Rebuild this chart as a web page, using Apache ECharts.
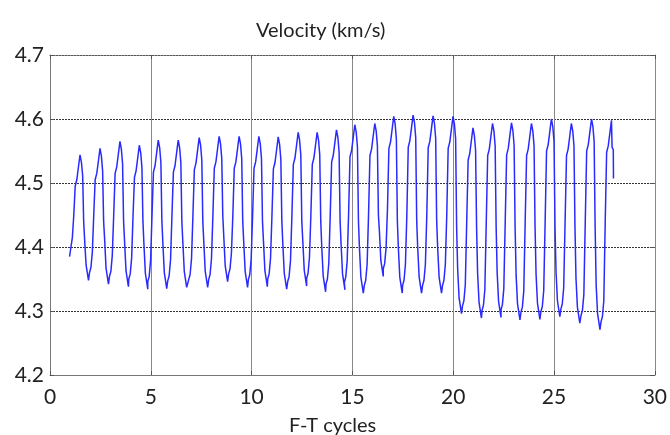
<!DOCTYPE html>
<html>
<head>
<meta charset="utf-8">
<script src="https://cdn.jsdelivr.net/npm/echarts@6/dist/echarts.min.js"></script>
<style>
html,body{margin:0;padding:0;background:#fff;}
#chart{width:670px;height:435px;}
</style>
</head>
<body>
<div id="chart"></div>
<script>
// Shape sample offsets (in cycles) relative to each cycle's peak
const phase = [-0.52, -0.45, -0.38, -0.31, -0.24, -0.16, -0.08, 0, 0.07, 0.13, 0.18, 0.23, 0.30, 0.42];

// Peak positions
const peakX = [1.49, 2.48, 3.47, 4.43, 5.37, 6.36, 7.40, 8.39, 9.38, 10.36, 11.32, 12.31, 13.25, 14.21,
  15.12, 16.11, 17.05, 18.01, 19.00, 19.99, 20.98, 21.95, 22.89, 23.88, 24.87, 25.86, 26.86, 27.85];

// Velocity values per cycle (km/s)
const cycleY = [
  [4.385, 4.400, 4.415, 4.45, 4.495, 4.505, 4.525, 4.544, 4.532, 4.512, 4.44, 4.410, 4.372, 4.348],
  [4.360, 4.368, 4.392, 4.45, 4.505, 4.515, 4.534, 4.554, 4.542, 4.519, 4.44, 4.412, 4.367, 4.342],
  [4.354, 4.362, 4.387, 4.45, 4.515, 4.525, 4.545, 4.565, 4.553, 4.530, 4.44, 4.408, 4.363, 4.338],
  [4.350, 4.358, 4.383, 4.45, 4.509, 4.519, 4.539, 4.559, 4.547, 4.524, 4.44, 4.404, 4.359, 4.334],
  [4.346, 4.354, 4.379, 4.45, 4.517, 4.527, 4.547, 4.567, 4.555, 4.532, 4.44, 4.405, 4.360, 4.335],
  [4.347, 4.355, 4.380, 4.45, 4.517, 4.527, 4.547, 4.567, 4.555, 4.532, 4.44, 4.407, 4.362, 4.337],
  [4.349, 4.357, 4.382, 4.45, 4.521, 4.531, 4.551, 4.571, 4.559, 4.536, 4.44, 4.407, 4.362, 4.337],
  [4.349, 4.357, 4.382, 4.45, 4.523, 4.533, 4.553, 4.573, 4.561, 4.538, 4.45, 4.416, 4.371, 4.346],
  [4.358, 4.366, 4.391, 4.45, 4.523, 4.533, 4.553, 4.573, 4.561, 4.538, 4.44, 4.407, 4.362, 4.337],
  [4.349, 4.357, 4.382, 4.45, 4.523, 4.533, 4.553, 4.573, 4.561, 4.538, 4.44, 4.408, 4.363, 4.338],
  [4.350, 4.358, 4.383, 4.45, 4.522, 4.532, 4.552, 4.572, 4.560, 4.537, 4.44, 4.404, 4.359, 4.334],
  [4.346, 4.354, 4.379, 4.45, 4.529, 4.539, 4.559, 4.579, 4.567, 4.544, 4.44, 4.409, 4.364, 4.339],
  [4.351, 4.359, 4.384, 4.45, 4.529, 4.539, 4.559, 4.579, 4.567, 4.544, 4.44, 4.400, 4.355, 4.330],
  [4.342, 4.350, 4.375, 4.45, 4.533, 4.543, 4.563, 4.583, 4.571, 4.548, 4.44, 4.403, 4.358, 4.333],
  [4.345, 4.353, 4.378, 4.45, 4.541, 4.551, 4.571, 4.591, 4.579, 4.556, 4.44, 4.398, 4.353, 4.328],
  [4.340, 4.348, 4.373, 4.45, 4.543, 4.553, 4.573, 4.593, 4.581, 4.558, 4.45, 4.424, 4.379, 4.354],
  [4.366, 4.374, 4.399, 4.46, 4.554, 4.564, 4.584, 4.604, 4.592, 4.569, 4.44, 4.398, 4.353, 4.328],
  [4.340, 4.348, 4.373, 4.45, 4.556, 4.566, 4.586, 4.606, 4.594, 4.571, 4.44, 4.398, 4.353, 4.328],
  [4.340, 4.348, 4.373, 4.45, 4.555, 4.565, 4.585, 4.605, 4.593, 4.570, 4.44, 4.398, 4.353, 4.328],
  [4.340, 4.348, 4.373, 4.45, 4.554, 4.564, 4.584, 4.604, 4.592, 4.569, 4.43, 4.366, 4.321, 4.296],
  [4.308, 4.316, 4.341, 4.44, 4.536, 4.546, 4.566, 4.586, 4.574, 4.551, 4.43, 4.359, 4.314, 4.289],
  [4.301, 4.309, 4.334, 4.44, 4.543, 4.553, 4.573, 4.593, 4.581, 4.558, 4.43, 4.360, 4.315, 4.290],
  [4.302, 4.310, 4.335, 4.44, 4.544, 4.554, 4.574, 4.594, 4.582, 4.559, 4.43, 4.356, 4.311, 4.286],
  [4.298, 4.306, 4.331, 4.44, 4.543, 4.553, 4.573, 4.593, 4.581, 4.558, 4.43, 4.357, 4.312, 4.287],
  [4.299, 4.307, 4.332, 4.44, 4.550, 4.560, 4.580, 4.600, 4.588, 4.565, 4.43, 4.361, 4.316, 4.291],
  [4.303, 4.311, 4.336, 4.44, 4.543, 4.553, 4.573, 4.593, 4.581, 4.558, 4.43, 4.351, 4.306, 4.281],
  [4.293, 4.301, 4.326, 4.44, 4.550, 4.560, 4.580, 4.600, 4.588, 4.565, 4.43, 4.341, 4.296, 4.271],
  [4.283, 4.291, 4.316, 4.44, 4.548, 4.558, 4.578, 4.598]
];

// Final partial fall after the last peak
const tailX = [27.88, 27.92, 27.94, 27.95];
const tailY = [4.556, 4.553, 4.552, 4.507];

// Axis ticks
const xTicks = [0, 5, 10, 15, 20, 25, 30];
const yTicks = [4.2, 4.3, 4.4, 4.5, 4.6, 4.7];

const data = [];
cycleY.forEach((row, i) => {
  row.forEach((v, j) => data.push([+(peakX[i] + phase[j]).toFixed(3), v]));
});
tailX.forEach((x, k) => data.push([x, tailY[k]]));

const FONT = 'Lato';
const chart = echarts.init(document.getElementById('chart'), null, {renderer: 'canvas'});
chart.setOption({
  animation: false,
  backgroundColor: '#ffffff',
  title: [
    {text: 'Velocity (km/s)', left: 251, top: 16,
     textStyle: {fontFamily: FONT, fontSize: 20, fontWeight: 'normal', color: '#222'}},
    {text: 'F-T cycles', left: 284, top: 411,
     textStyle: {fontFamily: FONT, fontSize: 20, fontWeight: 'normal', color: '#222'}}
  ],
  grid: {left: 50, right: 15, top: 55, bottom: 60, containLabel: false},
  xAxis: [{
    type: 'value', min: xTicks[0], max: xTicks[xTicks.length - 1], interval: 5,
    axisLine: {show: true, onZero: false, lineStyle: {color: '#777', width: 1}},
    axisTick: {show: true, inside: true, length: 4, lineStyle: {color: '#555'}},
    axisLabel: {fontFamily: FONT, fontSize: 21, color: '#222', margin: 12},
    splitLine: {show: true, lineStyle: {color: '#888', width: 1, type: 'solid'}}
  }, {
    type: 'value', position: 'top', min: xTicks[0], max: xTicks[xTicks.length - 1], interval: 5,
    axisLine: {show: true, onZero: false, lineStyle: {color: '#555', width: 1, type: [2, 1]}},
    axisTick: {show: true, inside: true, length: 4, lineStyle: {color: '#555'}},
    axisLabel: {show: false}, splitLine: {show: false}
  }],
  yAxis: [{
    type: 'value', min: yTicks[0], max: yTicks[yTicks.length - 1], interval: 0.1,
    axisLine: {show: true, onZero: false, lineStyle: {color: '#777', width: 1}},
    axisTick: {show: true, inside: true, length: 4, lineStyle: {color: '#555'}},
    axisLabel: {fontFamily: FONT, fontSize: 21, color: '#222', margin: 6,
      formatter: v => v.toFixed(1)},
    splitLine: {show: true, lineStyle: {color: '#333', width: 1, type: [2, 1]}}
  }, {
    type: 'value', position: 'right', min: yTicks[0], max: yTicks[yTicks.length - 1], interval: 0.1,
    axisLine: {show: true, onZero: false, lineStyle: {color: '#888', width: 1}},
    axisTick: {show: true, inside: true, length: 5, lineStyle: {color: '#555'}},
    axisLabel: {show: false}, splitLine: {show: false}
  }],
  series: [{
    type: 'line', data: data, showSymbol: false, symbol: 'none',
    lineStyle: {color: '#2a2aff', width: 1.5},
    itemStyle: {color: '#2a2aff'}
  }]
});
</script>
</body>
</html>
